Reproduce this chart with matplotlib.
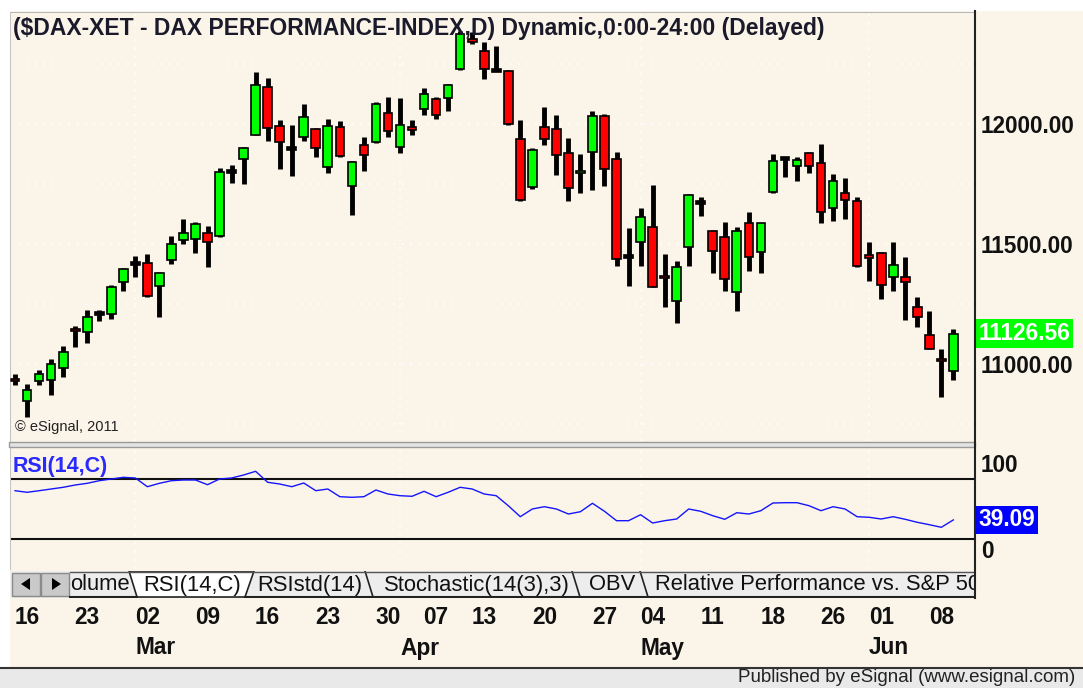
import matplotlib.pyplot as plt
import matplotlib.transforms as mtransforms
from matplotlib.patches import Rectangle, Polygon
import numpy as np
import pandas as pd

plt.rcParams['font.family'] = ['Liberation Sans', 'DejaVu Sans']

# trading days (XETRA, holidays removed)
holidays = pd.to_datetime(['2015-04-03', '2015-04-06', '2015-05-01', '2015-05-25'])
dates = pd.bdate_range('2015-02-13', '2015-06-09')
dates = dates[~dates.isin(holidays)]

opens = [10936, 10847, 10931, 10933, 10985, 11147, 11135, 11209, 11208, 11343,
         11417, 11422, 11325, 11433, 11517, 11519, 11544, 11533, 11801, 11853,
         11956, 12156, 11993, 11899, 11947, 11979, 11822, 11986, 11740, 11914,
         11924, 12044, 11906, 11989, 12063, 12104, 12108, 12229, 12354, 12306,
         12225, 12222, 11938, 11739, 11986, 11979, 11878, 11796, 11882, 12035,
         11854, 11447, 11507, 11572, 11368, 11264, 11489, 11674, 11556, 11531,
         11299, 11586, 11465, 11715, 11858, 11826, 11878, 11836, 11650, 11711,
         11681, 11454, 11461, 11364, 11361, 11236, 11122, 11021, 10972]
highs = [10958, 10917, 10975, 11019, 11075, 11158, 11225, 11225, 11328, 11401,
         11451, 11458, 11385, 11533, 11603, 11590, 11575, 11815, 11829, 11903,
         12215, 12192, 12017, 11997, 12083, 11983, 12021, 12014, 11847, 11947,
         12093, 12114, 12108, 12017, 12150, 12114, 12167, 12386, 12382, 12340,
         12326, 12225, 12017, 11900, 12072, 12039, 11942, 11875, 12053, 12042,
         11882, 11567, 11650, 11747, 11458, 11431, 11708, 11697, 11558, 11590,
         11572, 11632, 11586, 11875, 11864, 11864, 11882, 11917, 11792, 11775,
         11697, 11507, 11465, 11507, 11447, 11281, 11222, 11063, 11146]
lows = [10912, 10781, 10913, 10871, 10947, 11072, 11089, 11181, 11189, 11306,
        11364, 11281, 11197, 11417, 11500, 11464, 11406, 11531, 11755, 11750,
        11953, 11931, 11812, 11785, 11931, 11861, 11794, 11861, 11621, 11803,
        11922, 11947, 11880, 11956, 12039, 12021, 12056, 12225, 12333, 12188,
        12222, 11997, 11681, 11729, 11914, 11789, 11681, 11711, 11725, 11743,
        11410, 11326, 11410, 11319, 11236, 11169, 11410, 11618, 11378, 11303,
        11219, 11386, 11378, 11713, 11781, 11761, 11794, 11586, 11594, 11604,
        11406, 11344, 11271, 11303, 11183, 11153, 11061, 10861, 10933]
closes = [10929, 10892, 10958, 11000, 11049, 11136, 11197, 11209, 11322, 11396,
          11417, 11283, 11381, 11500, 11547, 11583, 11510, 11801, 11801, 11899,
          12164, 11983, 11924, 11899, 12028, 11900, 11993, 11868, 11840, 11872,
          12083, 11972, 11997, 11975, 12125, 12039, 12164, 12375, 12340, 12229,
          12225, 12000, 11683, 11892, 11938, 11872, 11733, 11803, 12035, 11813,
          11438, 11447, 11614, 11322, 11358, 11403, 11706, 11674, 11472, 11354,
          11556, 11447, 11586, 11847, 11858, 11850, 11826, 11632, 11764, 11683,
          11410, 11442, 11331, 11414, 11340, 11197, 11063, 11011, 11126.56]
rsi = [68.3, 66.7, 68.3, 70.0, 71.7, 74.0, 75.7, 78.3, 80.0, 81.7,
       81.0, 72.3, 75.7, 78.3, 79.0, 79.0, 74.3, 80.0, 81.0, 84.0,
       87.7, 76.7, 75.0, 72.3, 76.0, 68.3, 70.0, 62.3, 61.7, 62.3,
       69.0, 65.0, 63.3, 62.7, 67.7, 62.3, 66.7, 71.7, 70.0, 65.0,
       63.3, 53.3, 42.3, 50.0, 52.3, 50.0, 45.0, 47.3, 55.7, 47.7,
       38.3, 38.3, 44.3, 36.0, 38.3, 40.0, 50.0, 47.7, 43.3, 39.7,
       46.3, 45.0, 48.3, 56.0, 56.3, 56.3, 53.3, 48.3, 52.3, 50.0,
       42.3, 41.7, 40.0, 42.3, 39.7, 36.7, 34.3, 31.7, 39.09]
price_ticks = [11000, 11500, 12000]
rsi_levels = [80, 20]
tab_names = ['olume', 'RSI(14,C)', 'RSIstd(14)', 'Stochastic(14(3),3)', 'OBV',
             'Relative Performance vs. S&P 500']

W, H = 1083, 688
BG = '#FBF5E9'


def box(x0, y0, x1, y1):
    return [x0 / W, 1 - y1 / H, (x1 - x0) / W, (y1 - y0) / H]


fig = plt.figure(figsize=(W / 100, H / 100), dpi=100)
fig.patch.set_facecolor(BG)
# window chrome
fig.patches.append(Rectangle((0, 1 - 10 / H), 1, 10 / H, transform=fig.transFigure,
                             color='white', zorder=0))
fig.patches.append(Rectangle((0, 0), 9 / W, 1, transform=fig.transFigure,
                             color='white', zorder=0))
fig.patches.append(Rectangle((0, 0), 1, 20 / H, transform=fig.transFigure,
                             color='#E9E9E9', zorder=0))
fig.add_artist(plt.Line2D([0, 1], [20 / H, 20 / H], transform=fig.transFigure,
                          color='#333333', lw=1.5))
fig.add_artist(plt.Line2D([975 / W, 975 / W], [1 - 598 / H, 1 - 11 / H],
                          transform=fig.transFigure, color='#222222', lw=1.5, zorder=5))
fig.patches.append(Rectangle((9 / W, 1 - 447 / H), 966 / W, 5 / H, transform=fig.transFigure,
                             facecolor='#E4E4E4', edgecolor='#9A9A9A', lw=1, zorder=4))

x = np.arange(len(closes))
o = np.array(opens, dtype=float)
c = np.array(closes, dtype=float)
first_of_month = [i for i in range(1, len(dates)) if dates[i].month != dates[i - 1].month]
month_lines = [i - 1 for i in first_of_month]

# ---- price pane
ax = fig.add_axes(box(10, 12, 975, 441))
ax.set_facecolor(BG)
ax.set_xlim(-0.42, 79.8)
ax.set_ylim(10679, 12467)
for lvl in np.arange(10750, 12500, 250):
    ax.axhline(lvl, color='white', lw=1.2, ls=(0, (1, 4)), zorder=1)
for m in month_lines:
    ax.axvline(m, color='white', lw=1.2, ls=(0, (1, 4)), zorder=1)

ax.vlines(x, lows, highs, color='black', lw=3.5, zorder=2)
colors = ['#00FF00' if cc > oo else ('#FF0000' if cc < oo else 'black') for oo, cc in zip(o, c)]
bottoms = np.where(c == o, o - 6, np.minimum(o, c))
heights = np.where(c == o, 12, np.abs(c - o))
ax.bar(x, heights, bottom=bottoms, width=0.72, color=colors, edgecolor='black',
       linewidth=1.2, zorder=3)

ax.yaxis.tick_right()
ax.set_yticks(price_ticks)
ax.set_yticklabels([f'{v:.2f}' for v in price_ticks], fontsize=16.3, fontweight='bold',
                   color='#111111')
ax.tick_params(axis='y', length=0, pad=4)
ax.set_xticks([])
for s in ['bottom', 'right']:
    ax.spines[s].set_visible(False)
for s in ['top', 'left']:
    ax.spines[s].set_color('#B8B8B8')
ax.text(0.003, 0.962, '($DAX-XET - DAX PERFORMANCE-INDEX,D) Dynamic,0:00-24:00 (Delayed)',
        transform=ax.transAxes, fontsize=16.5, fontweight='bold', color='#1A1A2A',
        va='center', ha='left')
ax.text(0.005, 0.033, '\u00a9 eSignal, 2011', transform=ax.transAxes, fontsize=10.5,
        color='#222222', va='center', ha='left')
trans = mtransforms.blended_transform_factory(ax.transAxes, ax.transData)
ax.text(1.004, closes[-1], f'{closes[-1]:.2f}', transform=trans, fontsize=16.3,
        fontweight='bold', color='white', va='center', ha='left', clip_on=False,
        bbox=dict(boxstyle='square,pad=0.12', fc='#00FF00', ec='none'))

# ---- RSI pane
ax2 = fig.add_axes(box(10, 447, 975, 569))
ax2.set_facecolor(BG)
ax2.set_xlim(-0.42, 79.8)
ax2.set_ylim(-10, 112)
for m in month_lines:
    ax2.axvline(m, color='white', lw=1.2, ls=(0, (1, 4)), zorder=1)
for lvl in rsi_levels:
    ax2.axhline(lvl, color='#111111', lw=1.5, zorder=2)
ax2.plot(x, rsi, color='#1414FF', lw=1.0, zorder=3)
ax2.set_xticks([])
ax2.set_yticks([])
for s in ['bottom', 'right', 'top']:
    ax2.spines[s].set_visible(False)
ax2.spines['left'].set_color('#B8B8B8')
ax2.text(0.003, 0.84, 'RSI(14,C)', transform=ax2.transAxes, fontsize=15.5,
         fontweight='bold', color='#2A2AFF', va='center', ha='left')
trans2 = mtransforms.blended_transform_factory(ax2.transAxes, ax2.transData)
ax2.text(1.004, rsi[-1], f'{rsi[-1]:.2f}', transform=trans2, fontsize=16.3,
         fontweight='bold', color='white', va='center', ha='left', clip_on=False,
         bbox=dict(boxstyle='square,pad=0.12', fc='#0000FF', ec='none'))
ax2.text(1.006, 0.85, '100', transform=ax2.transAxes, fontsize=16.3, fontweight='bold',
         color='#111111', va='center', ha='left', clip_on=False)
ax2.text(1.006, 0.14, '0', transform=ax2.transAxes, fontsize=16.3, fontweight='bold',
         color='#111111', va='center', ha='left', clip_on=False)

# ---- tab bar
tb = fig.add_axes(box(10, 571, 975, 598))
tb.set_xlim(10, 975)
tb.set_ylim(598, 571)
tb.axis('off')
tb.add_patch(Rectangle((10, 571), 965, 27, fc='#EDEDED', ec='none'))
for bx in (12, 41):
    tb.add_patch(Rectangle((bx, 572.5), 28, 23.5, fc='#C9C9C9', ec='#8A8A8A', lw=1))
tb.add_patch(Polygon([[30, 578], [30, 590], [21, 584]], closed=True, fc='black'))
tb.add_patch(Polygon([[52, 578], [52, 590], [61, 584]], closed=True, fc='black'))
tb.add_patch(Polygon([[129, 571], [254, 571], [245, 597], [137, 597]], closed=True,
                     fc='white', ec='#222222', lw=1.2))
for sx in (365, 572, 640):
    tb.plot([sx, sx + 8], [571, 597], color='#222222', lw=1.2)
tb.plot([70, 137], [597, 597], color='#222222', lw=1.5)
tb.plot([245, 975], [597, 597], color='#222222', lw=1.5)
tb.plot([70, 975], [571.5, 571.5], color='#555555', lw=1)
tab_x = [100, 192, 310, 477, 612, 655]
for tx, name in zip(tab_x, tab_names):
    ha = 'left' if name.startswith('Relative') else 'center'
    t = tb.text(tx, 585, name, fontsize=15.8, color='#111111', ha=ha, va='center')
    t.set_clip_on(True)

# ---- date labels
ad = fig.add_axes(box(10, 598, 975, 667))
ad.set_xlim(-0.42, 79.8)
ad.set_ylim(667, 598)
ad.axis('off')
week = dates.isocalendar().week.values
for i in range(1, len(dates)):
    if week[i] != week[i - 1]:
        ad.text(i, 617, dates[i].strftime('%d'), fontsize=16.3, fontweight='bold',
                color='#111111', ha='center', va='center')
for i in first_of_month:
    ad.text(i - 1, 648, dates[i].strftime('%b'), fontsize=16.3, fontweight='bold',
            color='#111111', ha='left', va='center')

fig.text(1075 / W, 1 - 678 / H, 'Published by eSignal (www.esignal.com)', fontsize=13.5,
         color='#222222', ha='right', va='center')

fig.savefig('out.png', dpi=100, facecolor=fig.get_facecolor())
